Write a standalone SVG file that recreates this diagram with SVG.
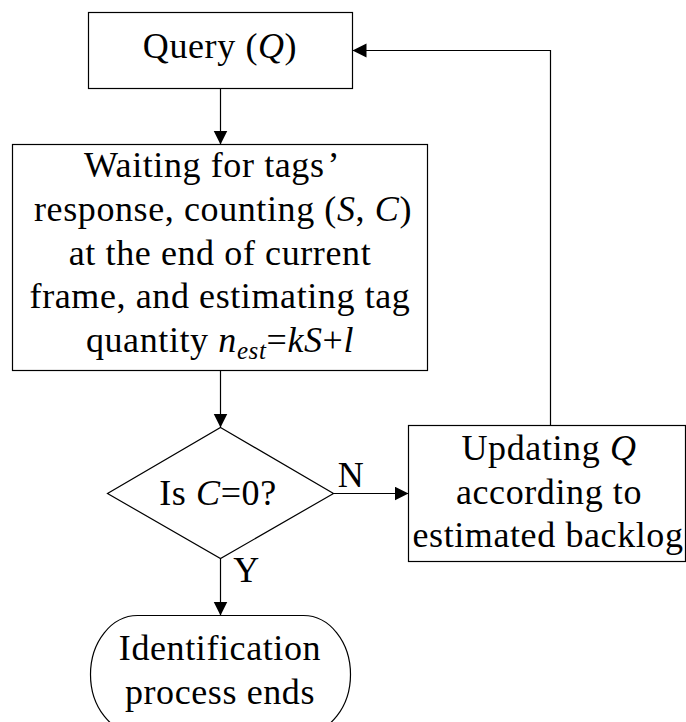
<svg xmlns="http://www.w3.org/2000/svg" width="686" height="722" viewBox="0 0 686 722" font-family="'Liberation Serif', 'Times New Roman', Times, serif">
<style>
  .shape { fill: #fff; stroke: #000; stroke-width: 1.2; }
  .edge { fill: none; stroke: #000; stroke-width: 1.2; }
  text { font-family: 'Liberation Serif', 'Times New Roman', Times, serif; font-size: 36px; fill: #000; text-anchor: middle; letter-spacing: 0.6px; }
  .i { font-style: italic; }
  .sub { font-size: 25px; font-style: italic; }
</style>
<defs>
  <marker id="arr" markerUnits="userSpaceOnUse" markerWidth="15" markerHeight="15" refX="14" refY="7" orient="auto">
    <path d="M0,0 L14,7 L0,14 Z" fill="#000"/>
  </marker>
</defs>
<rect width="686" height="722" fill="#fff"/>

<g id="query">
  <rect class="shape" x="88.5" y="12.5" width="264" height="76"/>
  <text x="220" y="58">Query (<tspan class="i">Q</tspan>)</text>
</g>

<g id="wait">
  <rect class="shape" x="12.5" y="144.5" width="415" height="226"/>
  <text x="212" y="177" letter-spacing="1">Waiting for tags<tspan dx="3">’</tspan></text>
  <text x="223" y="221">response, counting (<tspan class="i">S</tspan>, <tspan class="i">C</tspan>)</text>
  <text x="220" y="264.5">at the end of current</text>
  <text x="220" y="308">frame, and estimating tag</text>
  <text x="220" y="352">quantity <tspan class="i">n</tspan><tspan class="sub" dy="7">est</tspan><tspan dy="-7">=</tspan><tspan class="i">kS</tspan>+<tspan class="i">l</tspan></text>
</g>

<g id="decision">
  <polygon class="shape" points="220.5,427.5 333.5,493.5 220.5,558.5 107.5,493.5"/>
  <text x="218" y="505" letter-spacing="0">Is <tspan class="i">C</tspan>=0?</text>
</g>

<g id="update">
  <rect class="shape" x="408.5" y="425.5" width="277" height="136"/>
  <text x="549" y="460">Updating <tspan class="i">Q</tspan></text>
  <text x="549" y="503.5">according to</text>
  <text x="548" y="547" letter-spacing="0.4">estimated backlog</text>
</g>

<g id="end">
  <rect class="shape" x="90.5" y="615.5" width="260" height="118" rx="47" ry="59"/>
  <text x="220" y="660">Identification</text>
  <text x="220" y="703.5">process ends</text>
</g>

<g id="connectors">
  <line class="edge" x1="220.5" y1="88.5" x2="220.5" y2="144.5" marker-end="url(#arr)"/>
  <line class="edge" x1="220.5" y1="370.5" x2="220.5" y2="427.5" marker-end="url(#arr)"/>
  <line class="edge" x1="333.5" y1="493.5" x2="408.5" y2="493.5" marker-end="url(#arr)"/>
  <line class="edge" x1="220.5" y1="558.5" x2="220.5" y2="615.5" marker-end="url(#arr)"/>
  <polyline class="edge" points="550.5,425.5 550.5,50.5 352.5,50.5" marker-end="url(#arr)"/>
  <text x="351" y="487">N</text>
  <text x="246.5" y="582">Y</text>
</g>
</svg>
